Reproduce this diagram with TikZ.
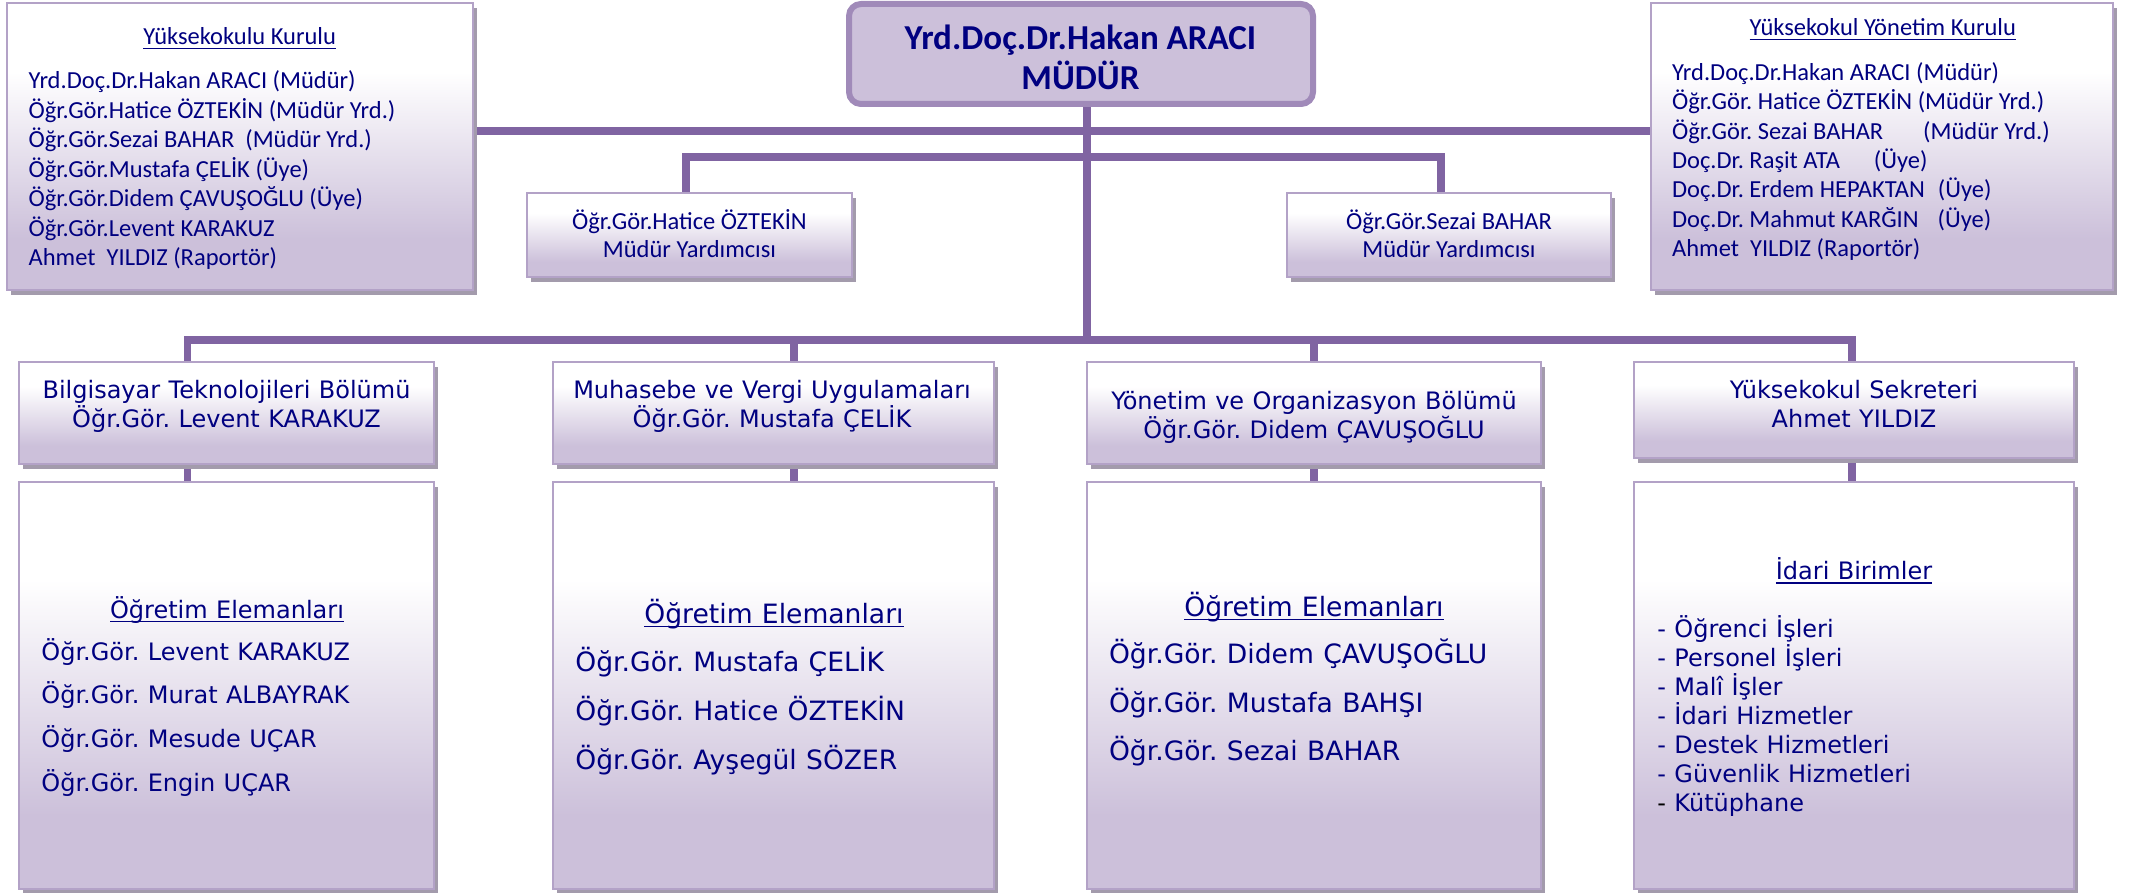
\documentclass[tikz,border=0pt]{standalone}
\usepackage{fontspec}
\setmainfont{Carlito}
\newfontfamily\verd[WordSpace=1.1]{DejaVu Sans}
\usetikzlibrary{shadows,backgrounds}
\frenchspacing
\definecolor{lacivert}{HTML}{000080}
\definecolor{lila}{HTML}{CCC0DA}
\definecolor{kenar}{HTML}{B3A2C7}
\definecolor{koyukenar}{HTML}{A08AB9}
\definecolor{hat}{HTML}{8064A2}
\definecolor{golge}{HTML}{A39BAC}
\pgfdeclareverticalshading{kutudolgu}{100bp}{color(0bp)=(lila); color(34bp)=(lila); color(63bp)=(white); color(100bp)=(white)}
\newsavebox{\ckutu}
\newcommand{\cizgili}[1]{\sbox{\ckutu}{#1}\rlap{\rule[-2pt]{\wd\ckutu}{0.65pt}}\usebox{\ckutu}}
\tikzset{
    kutu/.style={rectangle, draw=kenar, line width=1.3pt, shade, shading=kutudolgu,
        drop shadow={shadow xshift=2pt, shadow yshift=-2.5pt, fill=golge, opacity=1}},
    mudurkutu/.style={rectangle, rounded corners=6pt, draw=koyukenar, line width=3pt, fill=lila},
    baglanti/.style={draw=hat, line width=3.8pt},
    yazi/.style={text=lacivert, inner sep=0pt, font=\fontsize{12.25}{14}\selectfont},
    vyazi/.style={text=lacivert, inner sep=0pt, font=\verd\fontsize{12}{14}\selectfont},
    bvyazi/.style={text=lacivert, inner sep=0pt, font=\verd\fontsize{13.3}{16}\selectfont}}
\begin{document}
\begin{tikzpicture}[x=0.5pt, y=-0.5pt]
    \useasboundingbox (0,0) rectangle (2134,893);
    \node[mudurkutu, minimum width=232pt, minimum height=50pt] (mudur) at (1081,54) {};
    \node[kutu, minimum width=233pt, minimum height=143.5pt] (kurul) at (240,146.5) {};
    \node[kutu, minimum width=231pt, minimum height=143.5pt] (yonetim) at (1882,146.5) {};
    \node[kutu, minimum width=162.5pt, minimum height=42pt] (yrd1) at (689.5,235) {};
    \node[kutu, minimum width=162pt, minimum height=42pt] (yrd2) at (1449,235) {};
    \foreach \n/\x/\w/\y/\h in {1/226.5/207.5/413/51, 2/773.5/220.5/413/51, 3/1314/227/413/51, 4/1854/220/410/48}{
        \node[kutu, minimum width=\w pt, minimum height=\h pt] (d\n) at (\x,\y) {};
        \node[kutu, minimum width=\w pt, minimum height=203.5pt] (e\n) at (\x,685.5) {};}
    \coordinate (trunk) at (1087,340);
    \coordinate (kl) at (1087,131);
    \coordinate (ya) at (686,157);
    \coordinate (yb) at (1441,157);
    \foreach \n/\x in {1/187.5, 2/794, 3/1314, 4/1852}
        \coordinate (b\n) at (\x,340);
    \begin{scope}[on background layer]
        \draw[baglanti] (mudur.south -| trunk) -- (trunk);
        \draw[baglanti] (kurul.east |- kl) -- (yonetim.west |- kl);
        \draw[baglanti] (yrd1.north -| ya) |- (yb) -- (yb |- yrd2.north);
        \draw[baglanti] (b1 |- d1.north) -- (b1) -- (b4) -- (b4 |- d4.north);
        \foreach \n in {2,3}
            \draw[baglanti] (b\n) -- (b\n |- d\n.north);
        \foreach \n in {1,...,4}
            \draw[baglanti] (b\n |- d\n.south) -- (b\n |- e\n.north);
    \end{scope}
    \node[yazi, font=\bfseries\fontsize{17.5}{20}\selectfont, anchor=base] (m1) at (1080.5,50) {Yrd.Doç.Dr.Hakan ARACI};
    \node[yazi, font=\bfseries\fontsize{17.5}{20}\selectfont, anchor=base] (m2) at (1080.5,90) {MÜDÜR};
    \node[yazi, anchor=base] (kurulbas) at (239.7,45) {\cizgili{Yüksekokulu Kurulu}};
    \foreach \t [count=\i from 0] in {{Yrd.Doç.Dr.Hakan ARACI (Müdür)}, {Öğr.Gör.Hatice ÖZTEKİN (Müdür Yrd.)},
        {Öğr.Gör.Sezai BAHAR\ \ (Müdür Yrd.)}, {Öğr.Gör.Mustafa ÇELİK (Üye)}, {Öğr.Gör.Didem ÇAVUŞOĞLU (Üye)},
        {Öğr.Gör.Levent KARAKUZ}, {Ahmet\ \ YILDIZ (Raportör)}}
        \node[yazi, anchor=base west] (k\i) at (28.3,{89+29.4*\i}) {\t};
    \node[yazi, anchor=base] (yonetimbas) at (1882.8,36) {\cizgili{Yüksekokul Yönetim Kurulu}};
    \foreach \t [count=\i from 0] in {{Yrd.Doç.Dr.Hakan ARACI (Müdür)}, {Öğr.Gör. Hatice ÖZTEKİN (Müdür Yrd.)},
        {Öğr.Gör. Sezai BAHAR\hspace{20pt}(Müdür Yrd.)}, {Doç.Dr. Raşit ATA\hspace{17pt}(Üye)},
        {Doç.Dr. Erdem HEPAKTAN\hspace{6.5pt}(Üye)}, {Doç.Dr. Mahmut KARĞIN\hspace{9.5pt}(Üye)},
        {Ahmet\ \ YILDIZ (Raportör)}}
        \node[yazi, anchor=base west] (y\i) at (1671.7,{80.7+29.3*\i}) {\t};
    \foreach \n/\x/\a in {1/689.5/{Öğr.Gör.Hatice ÖZTEKİN}, 2/1449/{Öğr.Gör.Sezai BAHAR}}{
        \node[yazi, anchor=base] (yrd\n a) at (\x,229) {\a};
        \node[yazi, anchor=base] (yrd\n b) at (\x,257) {Müdür Yardımcısı};}
    \foreach \n/\x/\y/\a/\b in {1/226.5/398.6/{Bilgisayar Teknolojileri Bölümü}/{Öğr.Gör. Levent KARAKUZ},
        2/772/398.6/{Muhasebe ve Vergi Uygulamaları}/{Öğr.Gör. Mustafa ÇELİK},
        3/1314/409.5/{Yönetim ve Organizasyon Bölümü}/{Öğr.Gör. Didem ÇAVUŞOĞLU},
        4/1854/398.6/{Yüksekokul Sekreteri}/{Ahmet YILDIZ}}{
        \node[vyazi, anchor=base] (d\n a) at (\x,\y) {\a};
        \node[vyazi, anchor=base] (d\n b) at (\x,{\y+28.5}) {\b};}
    \node[vyazi, anchor=base] (e1bas) at (227,618) {\cizgili{Öğretim Elemanları}};
    \foreach \t [count=\i from 0] in {Levent KARAKUZ, Murat ALBAYRAK, Mesude UÇAR, Engin UÇAR}
        \node[vyazi, anchor=base west] (e1-\i) at (41,{660+43.7*\i}) {Öğr.Gör. \t};
    \node[bvyazi, anchor=base] (e2bas) at (774,623) {\cizgili{Öğretim Elemanları}};
    \foreach \t [count=\i from 0] in {Mustafa ÇELİK, Hatice ÖZTEKİN, Ayşegül SÖZER}
        \node[bvyazi, anchor=base west] (e2-\i) at (575,{671.6+48.7*\i}) {Öğr.Gör. \t};
    \node[bvyazi, anchor=base] (e3bas) at (1314,616) {\cizgili{Öğretim Elemanları}};
    \foreach \t [count=\i from 0] in {Didem ÇAVUŞOĞLU, Mustafa BAHŞI, Sezai BAHAR}
        \node[bvyazi, anchor=base west] (e3-\i) at (1108.6,{663.6+48.4*\i}) {Öğr.Gör. \t};
    \node[vyazi, anchor=base] (e4bas) at (1854,579.5) {\cizgili{İdari Birimler}};
    \foreach \t [count=\i from 0] in {{- Öğrenci İşleri}, {- Personel İşleri}, {- Malî İşler}, {- İdari Hizmetler},
        {- Destek Hizmetleri}, {- Güvenlik Hizmetleri}, {{\color{black}-} Kütüphane}}
        \node[vyazi, anchor=base west] (e4-\i) at (1657,{637+29.1*\i}) {\t};
\end{tikzpicture}
\end{document}
